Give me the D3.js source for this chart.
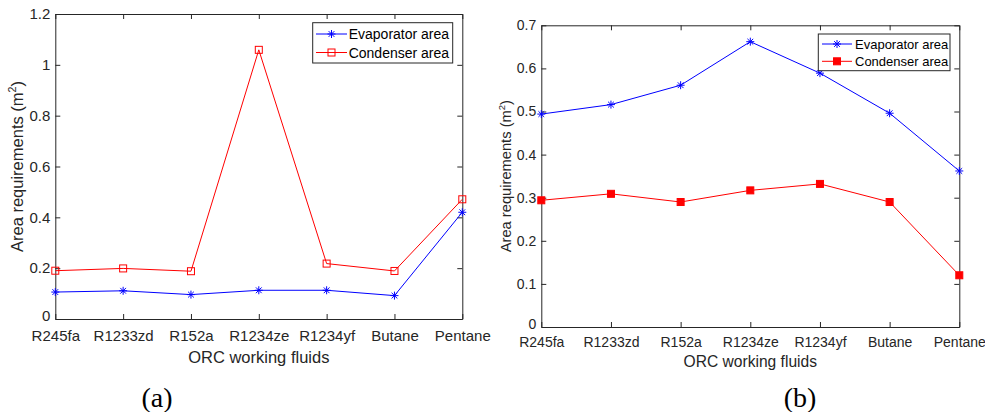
<!DOCTYPE html>
<html>
<head>
<meta charset="utf-8">
<script src="https://cdn.jsdelivr.net/npm/d3@7"></script>
<style>
  body { margin: 0; background: #fff; }
  svg { display: block; font-family: "Liberation Sans", Arial, sans-serif; }
</style>
</head>
<body>
<script>
const fluids = ["R245fa", "R1233zd", "R152a", "R1234ze", "R1234yf", "Butane", "Pentane"];

// panel (a)
const evapA = [0.106, 0.111, 0.096, 0.113, 0.113, 0.092, 0.420];
const condA = [0.190, 0.199, 0.188, 1.059, 0.218, 0.189, 0.471];
const ticksA = [0, 0.2, 0.4, 0.6, 0.8, 1, 1.2];

// panel (b)
const evapB = [0.494, 0.516, 0.561, 0.662, 0.589, 0.496, 0.362];
const condB = [0.294, 0.309, 0.290, 0.317, 0.332, 0.290, 0.120];
const ticksB = [0, 0.1, 0.2, 0.3, 0.4, 0.5, 0.6, 0.7];

const seriesNames = ["Evaporator area", "Condenser area"];

const width = 985;
const height = 412;
const ink = "#262626";

const svg = d3.select("body").append("svg")
  .attr("width", width)
  .attr("height", height);

function star(g, x, y, r, color) {
  const d = r * 0.72;
  g.append("path")
    .attr("d", `M${x - r},${y}H${x + r}M${x},${y - r}V${y + r}` +
      `M${x - d},${y - d}L${x + d},${y + d}M${x - d},${y + d}L${x + d},${y - d}`)
    .attr("stroke", color).attr("stroke-width", 1).attr("fill", "none");
}

function square(g, x, y, s, color, filled) {
  g.append("rect")
    .attr("x", x - s / 2).attr("y", y - s / 2)
    .attr("width", s).attr("height", s)
    .attr("fill", filled ? color : "none")
    .attr("stroke", color).attr("stroke-width", 1);
}

function panel(p) {
  const x = d3.scalePoint().domain(fluids).range([p.left, p.right]);
  const y = d3.scaleLinear().domain([0, p.ticks[p.ticks.length - 1]]).range([p.bottom, p.top]);
  const g = svg.append("g");

  const fmt = (d) => String(d);

  // box + inward ticks on all sides
  g.append("g").attr("transform", `translate(0,${p.bottom})`)
    .call(d3.axisBottom(x).tickSizeInner(-5).tickSizeOuter(0).tickPadding(p.xPad))
    .attr("font-family", null)
    .call((a) => a.selectAll("text").attr("font-size", p.tickFont).attr("fill", ink));
  g.append("g").attr("transform", `translate(0,${p.top})`)
    .call(d3.axisTop(x).tickSizeInner(-5).tickSizeOuter(0).tickFormat(""));
  g.append("g").attr("transform", `translate(${p.left},0)`)
    .call(d3.axisLeft(y).tickValues(p.ticks).tickFormat(fmt).tickSizeInner(-5).tickSizeOuter(0).tickPadding(5))
    .attr("font-family", null)
    .call((a) => a.selectAll("text").attr("font-size", p.tickFont).attr("fill", ink)
      .attr("dy", (d) => (d === 0 ? "0.1em" : "0.32em")));
  g.append("g").attr("transform", `translate(${p.right},0)`)
    .call(d3.axisRight(y).tickValues(p.ticks).tickSizeInner(-5).tickSizeOuter(0).tickFormat(""));
  g.selectAll(".domain, .tick line").attr("stroke", ink);

  // series
  const line = d3.line().x((d, i) => x(fluids[i])).y((d) => y(d));
  g.append("path").datum(p.evap).attr("d", line)
    .attr("fill", "none").attr("stroke", "#0000ff").attr("stroke-width", 1);
  g.append("path").datum(p.cond).attr("d", line)
    .attr("fill", "none").attr("stroke", "#ff0000").attr("stroke-width", 1);
  p.evap.forEach((v, i) => star(g, x(fluids[i]), y(v), 4, "#0000ff"));
  p.cond.forEach((v, i) => square(g, x(fluids[i]), y(v), p.sq, "#ff0000", p.filled));

  // labels
  g.append("text")
    .attr("x", (p.left + p.right) / 2).attr("y", p.xLabelY)
    .attr("text-anchor", "middle").attr("dominant-baseline", "central")
    .attr("font-size", p.labelFont).attr("fill", ink)
    .text("ORC working fluids");
  const yl = g.append("text")
    .attr("transform", `translate(${p.yLabelX},${(p.top + p.bottom) / 2}) rotate(-90)`)
    .attr("text-anchor", "middle").attr("dominant-baseline", "central")
    .attr("font-size", p.yLabelFont).attr("fill", ink);
  yl.append("tspan").text("Area requirements (m");
  yl.append("tspan").attr("font-size", p.yLabelFont * 0.65).attr("dy", "-0.5em").text("2");
  yl.append("tspan").attr("dy", "0.33em").text(")");

  g.append("text")
    .attr("x", p.capX).attr("y", 397)
    .attr("text-anchor", "middle").attr("dominant-baseline", "central")
    .attr("font-family", "'Liberation Serif', 'Times New Roman', serif")
    .attr("font-size", 28).attr("fill", "#000")
    .text(p.caption);

  // legend
  const L = p.legend;
  g.append("rect")
    .attr("x", L.x0).attr("y", L.y0)
    .attr("width", L.x1 - L.x0).attr("height", L.y1 - L.y0)
    .attr("fill", "#fff").attr("stroke", ink).attr("stroke-width", 1);
  const colors = ["#0000ff", "#ff0000"];
  seriesNames.forEach((name, i) => {
    const ry = L.rows[i];
    g.append("line")
      .attr("x1", L.lx0).attr("x2", L.lx1).attr("y1", ry).attr("y2", ry)
      .attr("stroke", colors[i]).attr("stroke-width", 1);
    const mx = (L.lx0 + L.lx1) / 2;
    if (i === 0) star(g, mx, ry, 4, colors[i]);
    else square(g, mx, ry, p.sq, colors[i], p.filled);
    g.append("text")
      .attr("x", L.tx).attr("y", ry)
      .attr("dominant-baseline", "central")
      .attr("font-size", L.font).attr("fill", "#000")
      .text(name);
  });
}

panel({
  left: 55.3, right: 462.3, top: 14, bottom: 319,
  ticks: ticksA, evap: evapA, cond: condA,
  tickFont: 15, labelFont: 16.5, yLabelFont: 16.5, xPad: 11,
  xLabelY: 357, yLabelX: 17, capX: 157, caption: "(a)",
  sq: 7, filled: false,
  legend: { x0: 312.7, x1: 452.7, y0: 22.7, y1: 63, rows: [34, 52.5], lx0: 316, lx1: 347, tx: 348.7, font: 14 }
});

panel({
  left: 541.3, right: 959.3, top: 25.3, bottom: 327,
  ticks: ticksB, evap: evapB, cond: condB,
  tickFont: 14, labelFont: 15.6, yLabelFont: 14.7, xPad: 10,
  xLabelY: 361, yLabelX: 506, capX: 800, caption: "(b)",
  sq: 7, filled: true,
  legend: { x0: 818.3, x1: 950, y0: 34, y1: 70.7, rows: [44, 61.3], lx0: 822, lx1: 852, tx: 855, font: 13 }
});
</script>
</body>
</html>
